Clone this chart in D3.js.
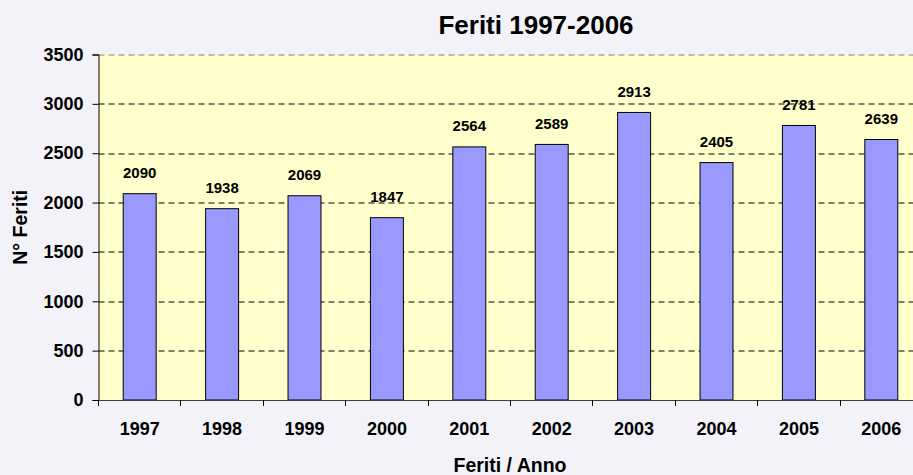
<!DOCTYPE html>
<html lang="en">
  <head>
    <meta charset="utf-8">
    <title>Feriti 1997-2006</title>
    <script src="https://d3js.org/d3.v7.min.js"></script>
    <style>
      body { margin: 0; background: #f2f2f8; }
      svg { display: block; font-family: Arial, "Liberation Sans", sans-serif; font-weight: bold; }
    </style>
  </head>
  <body>
    <script>
const years = ['1997', '1998', '1999', '2000', '2001', '2002', '2003', '2004', '2005', '2006']
const feriti = [2090, 1938, 2069, 1847, 2564, 2589, 2913, 2405, 2781, 2639]
const yTicks = [0, 500, 1000, 1500, 2000, 2500, 3000, 3500]

const dimensions = {
  width: 913,
  height: 475,
  margin: { top: 54.5, bottom: 75, left: 98.5, right: -9.5 }
}
dimensions.containerWidth = dimensions.width - dimensions.margin.left - dimensions.margin.right
dimensions.containerHeight = dimensions.height - dimensions.margin.top - dimensions.margin.bottom

const fontFamily = 'Arial, "Liberation Sans", sans-serif'

const svg = d3.select('body')
  .append('svg')
  .attr('width', dimensions.width)
  .attr('height', dimensions.height)

const chart = svg.append('g')
  .attr('transform', `translate(${dimensions.margin.left}, ${dimensions.margin.top})`)

const xScale = d3.scaleBand()
  .domain(years)
  .range([0, dimensions.containerWidth])
  .paddingInner(0.6)
  .paddingOuter(0.3)

const yScale = d3.scaleLinear()
  .domain([0, 3500])
  .range([dimensions.containerHeight, 0])

// plot background
chart.append('rect')
  .attr('width', dimensions.containerWidth)
  .attr('height', dimensions.containerHeight)
  .attr('fill', '#ffffcc')

// gridlines
chart.selectAll('.grid')
  .data(yTicks.filter(d => d > 0))
  .join('line')
  .attr('x1', 0)
  .attr('x2', dimensions.containerWidth)
  .attr('y1', d => Math.round(yScale(d)) + 0.5)
  .attr('y2', d => Math.round(yScale(d)) + 0.5)
  .attr('stroke', d => d === 3500 ? '#808080' : '#000')
  .attr('stroke-dasharray', '6,4')
  .attr('stroke-width', 1)

chart.selectAll('.bar')
  .data(feriti)
  .join('rect')
  .attr('class', 'bar')
  .attr('x', (d, i) => xScale(years[i]))
  .attr('y', d => yScale(d))
  .attr('width', xScale.bandwidth())
  .attr('height', d => dimensions.containerHeight - yScale(d))
  .attr('fill', '#9999ff')
  .attr('stroke', '#000')
  .attr('stroke-width', 1)

chart.selectAll('.val')
  .data(feriti)
  .join('text')
  .attr('x', (d, i) => xScale(years[i]) + xScale.bandwidth() / 2)
  .attr('y', d => yScale(d) - 15.5)
  .attr('text-anchor', 'middle')
  .attr('font-size', 15)
  .attr('fill', '#000')
  .text(d => d)

// y axis
const yAxis = d3.axisLeft(yScale)
  .tickValues(yTicks)
  .tickFormat(d3.format('d'))
  .tickSize(6)
  .tickPadding(9)

const yAxisGroup = chart.append('g').call(yAxis)
yAxisGroup.select('.domain').attr('stroke', '#000')
yAxisGroup.selectAll('text')
  .attr('font-size', 18)
  .attr('font-weight', 'bold')
  .attr('font-family', fontFamily)
  .attr('fill', '#000')

// x axis, ticks on category boundaries
const xAxisGroup = chart.append('g')
  .attr('transform', `translate(0, ${dimensions.containerHeight})`)
  .call(d3.axisBottom(xScale).tickSize(0).tickPadding(22))
xAxisGroup.select('.domain').attr('stroke', '#404040')
xAxisGroup.selectAll('text')
  .attr('font-size', 18)
  .attr('font-weight', 'bold')
  .attr('font-family', fontFamily)
  .attr('fill', '#000')

xAxisGroup.selectAll('.bound')
  .data(d3.range(years.length))
  .join('line')
  .attr('x1', i => Math.round(dimensions.containerWidth * i / years.length))
  .attr('x2', i => Math.round(dimensions.containerWidth * i / years.length))
  .attr('y1', 0)
  .attr('y2', 6)
  .attr('stroke', '#000')

// titles
svg.append('text')
  .attr('x', 536)
  .attr('y', 34)
  .attr('text-anchor', 'middle')
  .attr('font-size', 26)
  .text('Feriti 1997-2006')

svg.append('text')
  .attr('x', 510)
  .attr('y', 472)
  .attr('text-anchor', 'middle')
  .attr('font-size', 19.5)
  .text('Feriti / Anno')

svg.append('text')
  .attr('transform', `translate(27, ${dimensions.margin.top + dimensions.containerHeight / 2}) rotate(-90)`)
  .attr('text-anchor', 'middle')
  .attr('font-size', 19.5)
  .text('N° Feriti')
    </script>
  </body>
</html>
